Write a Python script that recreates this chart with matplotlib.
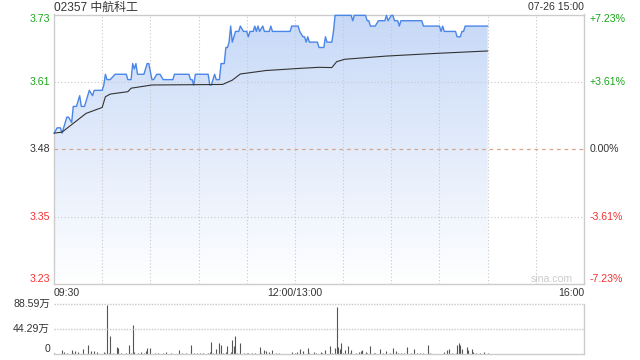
import matplotlib
matplotlib.use("Agg")
import matplotlib.pyplot as plt
import numpy as np

plt.rcParams["font.family"] = ["Liberation Sans", "Noto Sans CJK SC", "DejaVu Sans"]

title = "02357 中航科工"
stamp = "07-26 15:00"
prev_close = 3.48
y_ticks_pct = [-0.0723, -0.0361, 0.0, 0.0361, 0.0723]
y_left_labels = ["3.23", "3.35", "3.48", "3.61", "3.73"]
y_right_labels = ["-7.23%", "-3.61%", "0.00%", "+3.61%", "+7.23%"]
x_tick_pos = [0, 150, 330]
x_tick_labels = ["09:30", "12:00/13:00", "16:00"]

# minutes since 09:30 (lunch break removed), price
price_t = [0, 2, 4, 5, 6, 8, 9, 11, 12, 14, 15, 16, 17, 19, 21, 22, 24, 25, 30, 31,
           32, 33, 35, 38, 45, 46, 48, 49, 50, 51, 52, 56, 58, 59, 61, 62, 64, 66, 68, 74,
           75, 84, 85, 86, 87, 88, 96, 97, 98, 99, 100, 101, 103, 104, 106, 107, 108, 109, 110, 111,
           112, 113, 115, 116, 118, 120, 121, 122, 124, 125, 126, 127, 128, 130, 131, 134, 135, 136, 147, 148,
           152, 153, 155, 156, 157, 158, 159, 164, 165, 168, 169, 170, 173, 174, 175, 185, 186, 187, 194, 195,
           196, 197, 200, 202, 206, 207, 208, 210, 211, 212, 214, 215, 216, 229, 230, 240, 241, 242, 243, 250,
           251, 253, 254, 255, 256, 270]
price = [3.51, 3.52, 3.52, 3.51, 3.52, 3.54, 3.54, 3.53, 3.56, 3.56, 3.57, 3.58, 3.56, 3.56, 3.58, 3.59, 3.58, 3.59, 3.59, 3.60,
         3.62, 3.61, 3.61, 3.62, 3.62, 3.61, 3.61, 3.64, 3.63, 3.64, 3.62, 3.62, 3.64, 3.64, 3.61, 3.61, 3.62, 3.62, 3.61, 3.61,
         3.62, 3.62, 3.61, 3.61, 3.60, 3.62, 3.62, 3.60, 3.60, 3.61, 3.62, 3.61, 3.61, 3.64, 3.64, 3.67, 3.67, 3.68, 3.71, 3.68,
         3.69, 3.70, 3.70, 3.71, 3.70, 3.70, 3.69, 3.70, 3.70, 3.71, 3.70, 3.71, 3.70, 3.71, 3.70, 3.70, 3.71, 3.70, 3.70, 3.71,
         3.71, 3.70, 3.69, 3.69, 3.68, 3.69, 3.68, 3.68, 3.67, 3.67, 3.69, 3.68, 3.68, 3.70, 3.73, 3.73, 3.72, 3.73, 3.73, 3.72,
         3.72, 3.71, 3.71, 3.72, 3.72, 3.73, 3.72, 3.73, 3.73, 3.72, 3.72, 3.71, 3.72, 3.72, 3.71, 3.71, 3.70, 3.71, 3.70, 3.70,
         3.69, 3.69, 3.70, 3.70, 3.71, 3.71]

avg_t = [0, 5, 20, 30, 32, 35, 46, 48, 61, 105, 111, 116, 132, 153, 165, 173, 176, 181, 207, 238, 270]
avg_price = [3.510, 3.512, 3.547, 3.558, 3.578, 3.583, 3.5875, 3.594, 3.600, 3.601, 3.609, 3.6205,
             3.627, 3.631, 3.633, 3.6325, 3.6435, 3.648, 3.654, 3.659, 3.6635]

# volume per minute, in 万 shares
volume = [
    2.0, 1.2, 0.8, 0.6, 0.9, 8.3, 3.5, 1.0, 3.0, 0.8,
    0.7, 8.3, 3.0, 5.3, 0.9, 3.5, 0.8, 0.6, 10.0, 0.9,
    1.1, 17.0, 0.8, 6.5, 1.0, 6.5, 0.9, 4.7, 0.7, 0.8,
    1.2, 4.0, 1.5, 88.0, 2.0, 32.0, 1.0, 3.0, 0.8, 13.0,
    11.2, 0.9, 2.4, 0.7, 0.8, 2.4, 1.0, 16.5, 3.0, 52.5,
    4.7, 1.0, 2.4, 0.8, 4.0, 0.9, 3.0, 5.3, 11.2, 1.0,
    11.2, 0.9, 0.8, 3.0, 0.7, 1.8, 0.6, 0.8, 1.8, 0.7,
    4.0, 0.8, 0.6, 1.8, 0.7, 1.2, 0.6, 0.8, 8.3, 0.7,
    1.8, 0.6, 1.8, 0.7, 0.8, 16.5, 0.9, 1.8, 0.7, 3.0,
    0.8, 1.8, 0.6, 1.8, 0.7, 0.8, 2.4, 4.0, 22.0, 1.8,
    0.9, 10.0, 1.2, 20.0, 16.5, 3.0, 1.0, 4.0, 14.0, 1.2,
    4.0, 25.0, 14.0, 32.0, 1.8, 1.0, 20.0, 0.8, 2.4, 0.7,
    1.8, 2.4, 0.7, 1.8, 0.6, 1.8, 0.7, 0.8, 12.4, 2.4,
    0.8, 7.0, 6.5, 0.9, 4.0, 0.8, 7.0, 0.7, 1.8, 0.6,
    2.4, 0.6, 0.7, 1.2, 0.6, 0.7, 0.6, 0.8, 4.0, 0.9,
    2.4, 4.0, 0.8, 9.5, 0.9, 5.3, 0.8, 0.7, 11.2, 2.4,
    0.8, 0.7, 4.0, 2.4, 0.8, 0.7, 4.0, 2.4, 0.9, 8.3,
    1.0, 0.8, 14.0, 2.4, 1.2, 11.2, 83.0, 12.4, 9.5, 20.0,
    1.5, 8.3, 1.0, 14.0, 2.4, 7.0, 0.9, 0.8, 2.4, 0.7,
    4.0, 6.5, 7.0, 0.9, 4.0, 3.0, 0.8, 14.0, 0.9, 2.4,
    1.8, 0.7, 0.8, 10.0, 0.7, 1.8, 0.6, 5.3, 0.8, 2.4,
    0.7, 11.2, 0.9, 6.5, 2.4, 0.7, 1.8, 0.6, 1.8, 0.7,
    12.4, 0.8, 1.8, 0.6, 10.0, 0.8, 2.4, 0.7, 1.8, 0.6,
    1.8, 0.7, 0.8, 16.5, 1.8, 0.7, 1.2, 0.6, 1.2, 0.7,
    1.2, 0.6, 0.8, 3.5, 0.9, 8.3, 10.0, 0.8, 1.8, 0.7,
    1.8, 16.5, 20.0, 17.0, 10.0, 1.0, 0.8, 12.4, 7.0, 0.9,
    10.0, 4.0, 0.8, 1.8, 0.7, 1.8, 0.6, 0.8, 4.0, 0.9,
    1.8,
]
vol_max = 88.59
vol_labels = ["0", "44.29万", "88.59万"]

green = "#1aa51a"
red = "#f22f2f"
grid_c = "#c8c8c8"
spine_c = "#cccccc"

fig = plt.figure(figsize=(6.4, 3.6), dpi=100)
W, H = 640, 360
ax = fig.add_axes([54 / W, 1 - 284 / H, 530 / W, 269.5 / H])
vax = fig.add_axes([54 / W, 1 - 354.3 / H, 530 / W, 50 / H])

ticks = [prev_close * (1 + k) for k in y_ticks_pct]
ymin, ymax = ticks[0], ticks[-1]
ax.set_xlim(0, 330)
ax.set_ylim(ymin, ymax)

# gradient fill under price line
poly = ax.fill_between(price_t, price, ymin, color="none", lw=0)
path = poly.get_paths()[0]
grad = np.linspace(0, 1, 256)[:, None]
top = np.array([0.78, 0.85, 0.97])
bot = np.array([1.0, 1.0, 1.0])
img = top[None, None, :] * (1 - grad[..., None]) + bot[None, None, :] * grad[..., None]
im = ax.imshow(img, extent=[0, 330, ymin, ymax], aspect="auto", origin="upper", zorder=1)
im.set_clip_path(path, transform=ax.transData)

# grid on top of the fill
for gx in range(30, 330, 30):
    ax.axvline(gx, color=grid_c, lw=0.8, ls=(0, (1, 2)), zorder=3)
for ty in (ticks[1], ticks[3]):
    ax.axhline(ty, color=grid_c, lw=0.8, ls=(0, (1, 2)), zorder=3)
ax.axhline(prev_close, color="#d9a58a", lw=0.9, ls=(0, (3, 3)), zorder=3)

ax.plot(price_t, price, color="#4a86e8", lw=1.0, zorder=4, clip_on=False)
ax.plot(avg_t, avg_price, color="#333333", lw=0.8, zorder=4)

ax.set_xticks([])
ax.set_yticks([])
for s in ax.spines.values():
    s.set_color(spine_c)
    s.set_linewidth(1.0)

ytr = ax.get_yaxis_transform()
colors = [red, red, "#333333", green, green]
for i, (ty, ll, rl) in enumerate(zip(ticks, y_left_labels, y_right_labels)):
    va = "center"
    if i == 0:
        va = "bottom"
    elif i == len(ticks) - 1:
        va = "top"
    ax.text(-4 / 530, ty, ll, transform=ytr, ha="right", va=va, fontsize=7.6, color=colors[i])
    ax.text(1 + 6 / 530, ty, rl, transform=ytr, ha="left", va=va, fontsize=7.6, color=colors[i])

xtr = ax.get_xaxis_transform()
has = ["left", "center", "right"]
for xp, xl, ha in zip(x_tick_pos, x_tick_labels, has):
    ax.text(xp, -4 / 269.5, xl, transform=xtr, ha=ha, va="top", fontsize=7.6, color="#333333")

ax.text(0.0, 1 + 7 / 269.5, title, transform=ax.transAxes, ha="left", va="center",
        fontsize=8.6, color="#333333")
ax.text(1.0, 1 + 7 / 269.5, stamp, transform=ax.transAxes, ha="right", va="center",
        fontsize=7.6, color="#333333")
ax.text(1 - 11 / 530, 5 / 269.5, "sina.com", transform=ax.transAxes, ha="right", va="center",
        fontsize=7.6, color="#cccccc", zorder=5)

# volume panel
vt = np.arange(len(volume))
vax.set_xlim(0, 330)
vax.set_ylim(0, vol_max)
vax.vlines(vt, 0, volume, color="#555555", lw=0.8)
vax.axhline(vol_max / 2, color=grid_c, lw=1.0, ls=(0, (1, 1)))
vax.axhline(vol_max, color=grid_c, lw=1.0, ls=(0, (1, 1)), clip_on=False)
vax.set_xticks([])
vax.set_yticks([])
vax.spines["top"].set_visible(False)
vax.spines["left"].set_visible(False)
for s in ("right", "bottom"):
    vax.spines[s].set_color(spine_c)
    vax.spines[s].set_linewidth(1.0)
vtr = vax.get_yaxis_transform()
vax.text(-4 / 530, vol_max, vol_labels[2], transform=vtr, ha="right", va="center", fontsize=7.6, color="#333333")
vax.text(-4 / 530, vol_max / 2, vol_labels[1], transform=vtr, ha="right", va="center", fontsize=7.6, color="#333333")
vax.text(-4 / 530, 0, vol_labels[0], transform=vtr, ha="right", va="bottom", fontsize=7.6, color="#333333")

fig.savefig("out.png", dpi=100)
